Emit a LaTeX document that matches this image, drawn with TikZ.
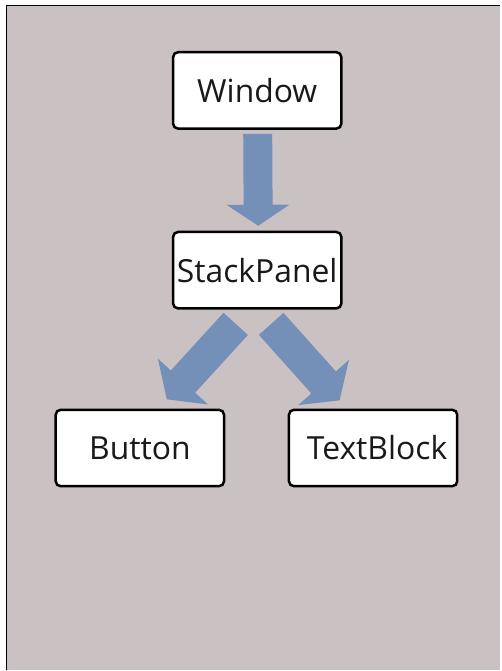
\documentclass[tikz,border=0pt]{standalone}
\usepackage{fontspec}
\setmainfont{Open Sans}
\usetikzlibrary{calc}
\definecolor{bgc}{RGB}{201,193,194}
\definecolor{arrowblue}{RGB}{116,144,184}
\newcommand\blkarrow[5]{% start, tip, shaft half width, head half width, head length
  \coordinate (ba) at ($(#2)!#5!(#1)$);
  \fill[arrowblue] ($(#1)!#3!90:(#2)$) -- ($(ba)!#3!-90:(#1)$) -- ($(ba)!#4!-90:(#1)$) -- (#2)
    -- ($(ba)!#4!90:(#1)$) -- ($(ba)!#3!90:(#1)$) -- ($(#1)!#3!-90:(#2)$) -- cycle;}
\begin{document}
\begin{tikzpicture}[x=1bp,y=1bp,
  box/.style={draw=black, line width=2.5bp, rounded corners=5bp, fill=white,
    minimum width=168.5bp, minimum height=76.5bp, inner sep=0pt,
    font=\fontsize{32}{36}\selectfont, text=black!90}]
\fill[white] (0,0) rectangle (501,671);
\fill[bgc] (6,0) rectangle (501,666);
\draw[line width=1.5bp] (6.5,0) -- (6.5,665.5) -- (501,665.5);
\useasboundingbox (0,0) rectangle (501,671);

\node[box] (win) at (257.5,580.5) {Window};
\node[box] (sp) at (257.5,400.5) {StackPanel};
\node[box] (btn) at (140,222.5) {Button};
\node[box, text width=168.5bp, align=center] (tb) at (373.5,222.5) {\hspace*{8bp}TextBlock};

\coordinate (s1) at ($(win.south)+(0.5,-4)$);
\coordinate (t1) at ($(sp.north)+(1,5)$);
\blkarrow{s1}{t1}{14.5bp}{31.5bp}{21bp}

\coordinate (s2) at ($(sp.south)+(-21.5,-14.25)$);
\coordinate (t2) at ($(btn.north)+(27,9.25)$);
\blkarrow{s2}{t2}{16.5bp}{34bp}{24bp}

\coordinate (s3) at ($(sp.south)+(14,-14.25)$);
\coordinate (t3) at ($(tb.north)+(-33.5,8.25)$);
\blkarrow{s3}{t3}{16.5bp}{34bp}{24bp}
\end{tikzpicture}
\end{document}
